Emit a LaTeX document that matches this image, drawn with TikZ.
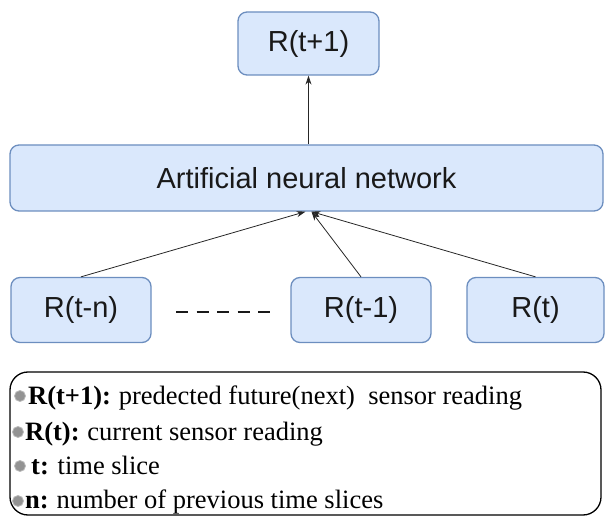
\documentclass[tikz,border=0pt]{standalone}
\usepackage{fontspec}
\setmainfont{Liberation Serif}
\newfontfamily\arialfont{Liberation Sans}
\usetikzlibrary{arrows.meta}
\definecolor{boxfill}{RGB}{218,232,252}
\definecolor{boxline}{RGB}{108,142,191}
\begin{document}
\begin{tikzpicture}[x=1pt,y=-1pt,
  bluebox/.style={draw=boxline,fill=boxfill,line width=1.3pt,rounded corners=9pt,
    inner sep=0pt,minimum height=65pt,font=\arialfont\fontsize{29}{33}\selectfont,text=black!90},
  conn/.style={draw=black!85,line width=0.8pt,-{Stealth[length=9pt,width=6pt]}},
  bullet/.style={circle,fill=gray!85,draw=gray!55,line width=0.8pt,inner sep=0pt,minimum size=11pt},
  legtext/.style={anchor=base west,inner sep=0pt,font=\fontsize{26.5}{30}\selectfont}]
\useasboundingbox (0,0) rectangle (605,518);
\node[bluebox,minimum width=141pt,minimum height=63pt] (top) at (308.5,43.5) {R(t+1)};
\node[bluebox,minimum width=593pt,minimum height=66pt] (ann) at (306.5,178) {Artificial neural network};
\node[bluebox,minimum width=140pt] (tn) at (81,310) {R(t-n)};
\node[bluebox,minimum width=140pt] (t1) at (361,310) {R(t-1)};
\node[bluebox,minimum width=137pt] (t0) at (535.5,310) {R(t)};
\coordinate (d1) at (176,312);
\coordinate (d2) at (270,312);
\draw[black!90,line width=2.6pt,dash pattern=on 12pt off 8.5pt] (d1) -- (d2);
\draw[conn] (top.south |- ann.north) -- (top.south);
\draw[conn] (tn.north) -- ([xshift=-1pt]ann.south);
\draw[conn] (t1.north) -- ([xshift=5pt]ann.south);
\draw[conn] (t0.north) -- ([xshift=5pt]ann.south);
\node[draw=black,line width=1.3pt,rounded corners=18pt,minimum width=591pt,minimum height=143pt,inner sep=0pt] (legend) at (305.5,443.5) {};
\node[bullet] (b1) at (20,396) {};
\node[bullet] (b2) at (18,432) {};
\node[bullet] (b3) at (20,466) {};
\node[bullet] (b4) at (18,501) {};
\node[legtext] (l1) at (28,404) {\textbf{R(t+1):}\hspace{-1pt} predected future(next)~ sensor reading};
\node[legtext] (l2) at (25,440) {\textbf{R(t):}\hspace{-1pt} current sensor reading};
\node[legtext] (l3) at (31,474) {\textbf{t:} time slice};
\node[legtext] (l4) at (25,508) {\textbf{n:}\hspace{-1pt} number of previous time slices};
\end{tikzpicture}
\end{document}
